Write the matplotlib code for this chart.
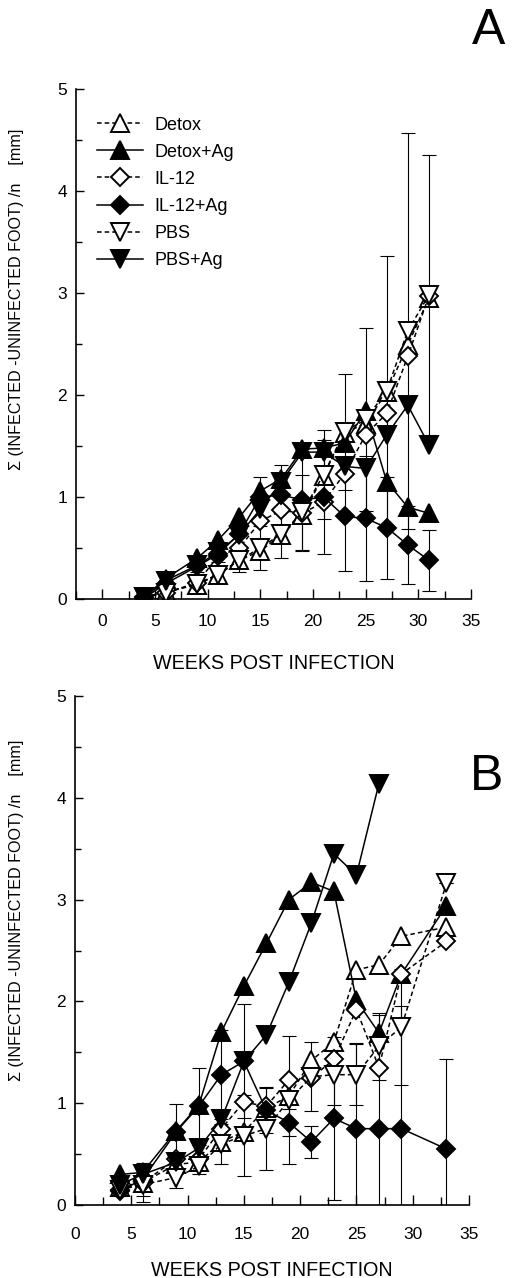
import numpy as np
import matplotlib
matplotlib.use("Agg")
import matplotlib.pyplot as plt
from matplotlib.ticker import MultipleLocator

plt.rcParams['font.family'] = ['Liberation Sans', 'DejaVu Sans']

# ---------------- data ----------------
labels = ["Detox", "Detox+Ag", "IL-12", "IL-12+Ag", "PBS", "PBS+Ag"]

weeks_A = [4, 6, 9, 11, 13, 15, 17, 19, 21, 23, 25, 27, 29, 31]
A_detox    = [0.02, 0.07, 0.14, 0.24, 0.38, 0.47, 0.63, 0.82, 1.21, 1.63, 1.72, 2.03, 2.49, 2.95]
A_detox_ag = [0.02, 0.20, 0.40, 0.58, 0.80, 1.06, 1.18, 1.47, 1.48, 1.53, 1.84, 1.15, 0.90, 0.84]
A_il12     = [0.02, 0.06, 0.16, 0.42, 0.50, 0.76, 0.87, 0.84, 0.95, 1.23, 1.61, 1.82, 2.38, 2.97]
A_il12_ag  = [0.01, 0.15, 0.32, 0.44, 0.64, 1.00, 1.02, 0.97, 1.00, 0.81, 0.79, 0.70, 0.53, 0.38]
A_pbs      = [0.02, 0.06, 0.15, 0.24, 0.38, 0.50, 0.64, 0.85, 1.22, 1.64, 1.76, 2.04, 2.63, 2.98]
A_pbs_ag   = [0.02, 0.18, 0.33, 0.46, 0.63, 0.88, 1.15, 1.44, 1.44, 1.30, 1.28, 1.61, 1.90, 1.51]
A_pbs_err     = [0.00, 0.03, 0.05, 0.08, 0.12, 0.22, 0.24, 0.37, 0.44, 0.57, 0.90, 1.32, 1.94, 1.37]
A_il12_ag_err = [0.00, 0.04, 0.06, 0.08, 0.12, 0.20, 0.29, 0.50, 0.56, 0.54, 0.61, 0.50, 0.38, 0.30]

weeks_B = [4, 6, 9, 11, 13, 15, 17, 19, 21, 23, 25, 27, 29, 33]
B_detox    = [0.18, 0.22, 0.40, 0.42, 0.62, 0.72, 0.95, 1.07, 1.42, 1.60, 2.31, 2.36, 2.64, 2.73]
B_detox_ag = [0.30, 0.32, 0.73, 0.98, 1.70, 2.15, 2.57, 3.00, 3.17, 3.08, 2.01, 1.69, 2.27, 2.94]
B_il12     = [0.15, 0.22, 0.45, 0.45, 0.75, 1.01, 0.97, 1.23, 1.25, 1.43, 1.92, 1.35, 2.27, 2.59]
B_il12_ag  = [0.14, 0.25, 0.72, 0.97, 1.28, 1.41, 0.93, 0.81, 0.62, 0.85, 0.75, 0.75, 0.75, 0.55]
B_pbs      = [0.15, 0.20, 0.27, 0.38, 0.60, 0.68, 0.75, 1.03, 1.26, 1.28, 1.28, 1.56, 1.75, 3.16]
B_pbs_ag   = [0.20, 0.30, 0.42, 0.56, 0.84, 1.41, 1.67, 2.19, 2.77, 3.45, 3.24, 4.14, np.nan, np.nan]
B_pbs_err     = [0.05, 0.17, 0.10, 0.08, 0.20, 0.40, 0.41, 0.63, 0.34, 0.30, 0.30, 0.33, 0.57, 0.00]
B_il12_ag_err = [0.05, 0.16, 0.27, 0.38, 0.44, 0.56, 0.22, 0.13, 0.16, 0.80, 0.84, 1.12, 1.20, 0.88]

xtick_labels = ["0", "5", "10", "15", "20", "25", "30", "35"]
ytick_labels = ["0", "1", "2", "3", "4", "5"]

ylabel_text = "\u03A3 (INFECTED -UNINFECTED FOOT) /n    [mm]"
xlabel_text = "WEEKS POST INFECTION"

# ---------------- styles ----------------
styles = {
    "Detox":    dict(marker='^', mfc='white', ls=(0, (3, 2)), ms=12.5),
    "Detox+Ag": dict(marker='^', mfc='black', ls='-', ms=12.5),
    "IL-12":    dict(marker='D', mfc='white', ls=(0, (3, 2)), ms=8.8),
    "IL-12+Ag": dict(marker='D', mfc='black', ls='-', ms=8.8),
    "PBS":      dict(marker='v', mfc='white', ls=(0, (3, 2)), ms=12.5),
    "PBS+Ag":   dict(marker='v', mfc='black', ls='-', ms=12.5),
}

W, H = 515, 1278
fig = plt.figure(figsize=(W / 100, H / 100), dpi=100)


def px_axes(l, r, t, b):
    return fig.add_axes([l / W, 1 - b / H, (r - l) / W, (b - t) / H])


axA = px_axes(76, 471, 89, 599)
axB = px_axes(75, 469, 696, 1205)


def draw(ax, weeks, series, errs, xlim, xpad, show_legend):
    for name, e_vals in errs.items():
        ax.errorbar(weeks, series[name], yerr=e_vals, fmt='none', ecolor='black',
                    elinewidth=0.8, capsize=4.7, capthick=0.8, zorder=1)
    handles = []
    for i, name in enumerate(labels):
        st = styles[name]
        h, = ax.plot(weeks, series[name], color='black', lw=1.1, ls=st['ls'],
                     marker=st['marker'], ms=st['ms'], mfc=st['mfc'], mec='black',
                     mew=1.4, zorder=2 + i, label=name)
        handles.append(h)
    ax.set_xlim(*xlim)
    ax.set_ylim(0, 5)
    ax.set_xticks([0, 5, 10, 15, 20, 25, 30, 35])
    ax.set_xticklabels(xtick_labels)
    ax.set_yticks([0, 1, 2, 3, 4, 5])
    ax.set_yticklabels(ytick_labels)
    ax.xaxis.set_minor_locator(MultipleLocator(2.5))
    ax.yaxis.set_minor_locator(MultipleLocator(0.5))
    for s in ['top', 'right']:
        ax.spines[s].set_visible(False)
    for s in ['left', 'bottom']:
        ax.spines[s].set_linewidth(1.2)
    ax.tick_params(axis='both', which='both', direction='in', width=1.0, labelsize=12.5)
    ax.tick_params(axis='x', which='major', length=7, pad=xpad)
    ax.tick_params(axis='x', which='minor', length=6)
    ax.tick_params(axis='y', which='major', length=6, pad=6.5)
    ax.tick_params(axis='y', which='minor', length=4)
    ax.set_xlabel(xlabel_text, fontsize=14.2)
    ax.set_ylabel(ylabel_text, fontsize=11.6)
    if show_legend:
        ax.legend(handles=handles, loc='upper left', bbox_to_anchor=(0.052, 0.946),
                  frameon=False, borderpad=0, borderaxespad=0, handlelength=2.6,
                  handletextpad=0.6, labelspacing=0.56, fontsize=13)


seriesA = {"Detox": A_detox, "Detox+Ag": A_detox_ag, "IL-12": A_il12,
           "IL-12+Ag": A_il12_ag, "PBS": A_pbs, "PBS+Ag": A_pbs_ag}
seriesB = {"Detox": B_detox, "Detox+Ag": B_detox_ag, "IL-12": B_il12,
           "IL-12+Ag": B_il12_ag, "PBS": B_pbs, "PBS+Ag": B_pbs_ag}

draw(axA, weeks_A, seriesA, {"PBS": A_pbs_err, "IL-12+Ag": A_il12_ag_err},
     (-2.5, 35), 11, True)
draw(axB, weeks_B, seriesB, {"PBS": B_pbs_err, "IL-12+Ag": B_il12_ag_err},
     (0, 35), 15.5, False)

# label positions
axA.xaxis.label.set_va('center')
axA.xaxis.set_label_coords(0.5, (599 - 663.5) / 510)
axB.xaxis.label.set_va('center')
axB.xaxis.set_label_coords(0.5, (1205 - 1270) / 509)
axA.yaxis.label.set_va('center')
axA.yaxis.set_label_coords((17 - 76) / 395, (599 - 299) / 510)
axB.yaxis.label.set_va('center')
axB.yaxis.set_label_coords((17 - 75) / 394, (1205 - 910) / 509)

fig.text(489 / W, 1 - 31 / H, "A", fontsize=36, ha='center', va='center')
fig.text(487 / W, 1 - 777 / H, "B", fontsize=36, ha='center', va='center')

fig.savefig("out.png", dpi=100)
